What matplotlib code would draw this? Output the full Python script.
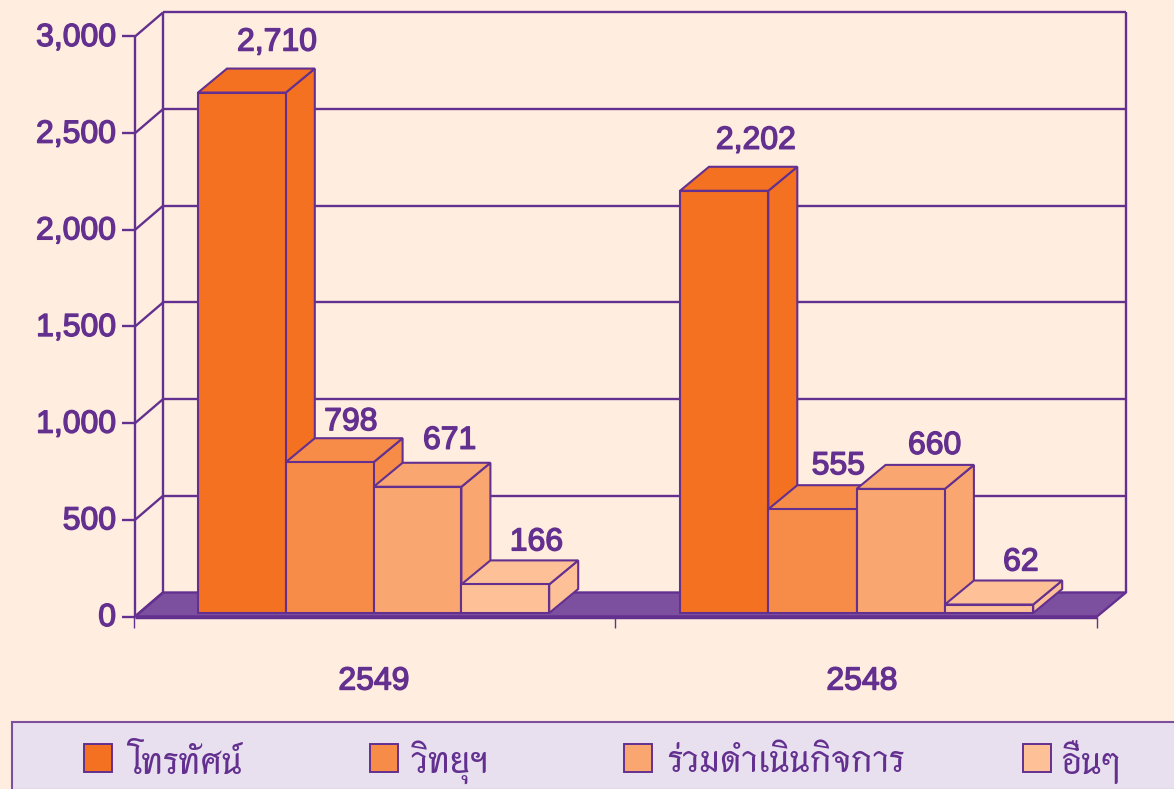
import matplotlib
matplotlib.use("Agg")
import matplotlib.pyplot as plt
import matplotlib.patheffects as pe
from matplotlib.patches import Polygon, Rectangle

years = ["2549", "2548"]
categories = ["โทรทัศน์", "วิทยุฯ", "ร่วมดำเนินกิจการ", "อื่นๆ"]
values_2549 = [2710, 798, 671, 166]
values_2548 = [2202, 555, 660, 62]
yticks = [0, 500, 1000, 1500, 2000, 2500, 3000]

bg = "#FFEEE0"
purple = "#63308F"
floor = "#7D509F"
colors = ["#F47122", "#F78C48", "#FAA670", "#FEC097"]

fig = plt.figure(figsize=(11.74, 7.89), dpi=100, facecolor=bg)
ax = fig.add_axes([0, 0, 1, 1])
ax.set_xlim(0, 1174)
unit = 580 / 3000  # pixels per value
ax.set_ylim(-172.5 / unit, 616.5 / unit)
ax.axis("off")

dx = 28
dy = 24 / unit
lw = 1.7
stroke = [pe.withStroke(linewidth=1.0, foreground=purple)]


def line(xs, ys, w=lw, z=1):
    ax.plot(xs, ys, color=purple, lw=w, zorder=z, solid_capstyle="butt")


def label(x, y, s, ha="center"):
    ax.text(x, y, s, ha=ha, va="center", color=purple, fontsize=23,
            family="Liberation Sans", path_effects=stroke, zorder=10)


# floor and walls
ax.add_patch(Polygon([(135, 0), (135 + dx, dy), (1126, dy), (1097, 0)], fc=floor, ec=purple, lw=lw, zorder=1))
line([163, 163], [dy, 3000 + dy])
line([1126, 1126], [dy, 3000 + dy])
line([135, 135], [0, 3000])
line([135, 1097], [-1, -1], w=2.5, z=2)
for v in yticks:
    line([122, 135], [v, v])
    line([135, 163], [v, v + dy])
    if v > 0:
        line([163, 1126], [v + dy, v + dy])
    label(116, v - 1.5 / unit, f"{v:,}", ha="right")
for x in [134, 615, 1097]:
    line([x, x], [0, -11 / unit], w=1)

base = 18
groups = [(198, 87.8, values_2549), (680, 88.3, values_2548)]
label_dx = [[79, 65, 76, 75], [76, 70, 78, 76]]
label_dy = [[50, 40, 46, 42], [50, 43, 43, 42]]
for g, (x0, bar_w, vals) in enumerate(groups):
    for i, v in enumerate(vals):
        x = x0 + i * bar_w
        c = colors[i]
        ax.add_patch(Polygon([(x + bar_w, base), (x + bar_w + dx + 1, base + dy), (x + bar_w + dx + 1, v + dy), (x + bar_w, v)], fc=c, ec=purple, lw=1.5, zorder=3 + i))
        ax.add_patch(Polygon([(x, v), (x + dx + 1, v + dy), (x + bar_w + dx + 1, v + dy), (x + bar_w, v)], fc=c, ec=purple, lw=1.5, zorder=3 + i))
        ax.add_patch(Rectangle((x, base), bar_w, v - base, fc=c, ec=purple, lw=1.5, zorder=3 + i))
        label(x + label_dx[g][i], v + label_dy[g][i] / unit, f"{v:,}")

for x, year in zip([374, 862], years):
    label(x, -65 / unit, year)

# legend panel
ax.add_patch(Rectangle((12, -173 / unit), 1170, 67.5 / unit, fc="#E8E0EF", ec=floor, lw=1.5, zorder=1))
for x, tx, c, name in zip([84, 370, 624, 1023], [127, 412, 667, 1062], colors, categories):
    ax.add_patch(Rectangle((x, -155 / unit), 28, 28 / unit, fc=c, ec=purple, lw=1.4, zorder=2))
    ax.text(tx, -146 / unit, name, ha="left", va="center", color=purple, fontsize=26.5,
            family=["Thasadith", "DejaVu Sans"], fontweight="bold", zorder=2)

fig.savefig("out.png", dpi=100, facecolor=bg)
